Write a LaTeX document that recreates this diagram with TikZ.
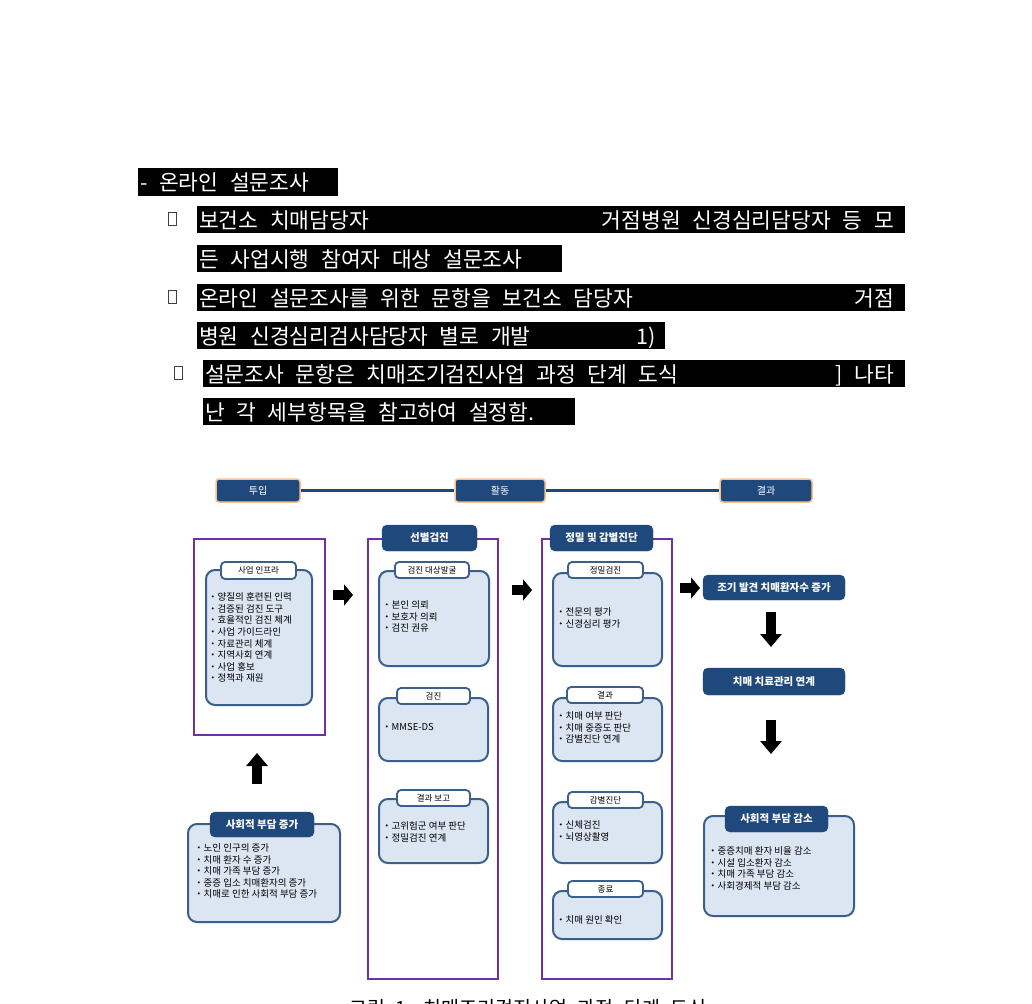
\documentclass[tikz,border=0pt]{standalone}
\usepackage{fontspec}
\usetikzlibrary{arrows.meta}
\newfontfamily\kr{Noto Sans CJK KR}
\newfontfamily\krtop[WordSpace=2.4, Scale=1.0001]{Noto Sans CJK KR}
\definecolor{dblue}{HTML}{1F497D}
\definecolor{bblue}{HTML}{3A5F8C}
\definecolor{lblue}{HTML}{DCE6F2}
\definecolor{purp}{HTML}{7030A0}
\definecolor{peach}{HTML}{F8C08E}
\newcommand\boxat[6]{\node[#2, anchor=north west, inner sep=0pt, minimum width={#5-#3}, minimum height={#6-#4}] (#1) at (#3,#4) {};}
\newcommand\tabat[7]{\node[#2, inner sep=0pt, minimum width={#5-#3}, minimum height={#6-#4}] (#1) at ({(#3+#5)/2},{(#4+#6)/2}) {#7};}
\tikzset{
 purpbox/.style={draw=purp, line width=2pt},
 inbox/.style={draw=bblue, fill=lblue, line width=2pt, rounded corners=9pt},
 wtab/.style={draw=bblue, fill=white, line width=1.8pt, rounded corners=4pt, font=\kr\fontsize{8.5}{10}\selectfont, text=black},
 dtab/.style={fill=dblue, draw=dblue, rounded corners=5pt, text=white, font=\kr\bfseries\fontsize{10.5}{12}\selectfont},
 hdr/.style={fill=dblue, draw=peach, line width=1.5pt, rounded corners=3pt, text=white, font=\kr\fontsize{10}{12}\selectfont},
 btxt/.style={anchor=north west, inner sep=0pt, align=left, font=\kr\fontsize{9.5}{11.6}\selectfont, text=black},
 blk/.style={line width=10pt, -{Triangle[length=9pt,width=21pt]}, draw=black},
 vblk/.style={line width=10pt, -{Triangle[length=13pt,width=21pt]}, draw=black},
 bar/.style={fill=black, draw=none},
 toptxt/.style={inner sep=0pt, text=white, font=\krtop\fontsize{21.5}{24}\selectfont},
 tofu/.style={draw=black!75, line width=0.8pt, minimum width=8pt, minimum height=13pt, inner sep=0pt}
}
\begin{document}
\begin{tikzpicture}[x=1pt,y=-1pt]
\fill[white] (0,0) rectangle (1032,1003);
\useasboundingbox (0,0) rectangle (1032,1003);

% ---------- top text lines ----------
\boxat{bar1}{bar}{138}{168}{338}{196}
\node[toptxt, anchor=base west] (t1) at (140,190) {- 온라인 설문조사};
\node[tofu] (sq1) at (172,219) {};
\boxat{bar2}{bar}{197}{206}{905}{233}
\node[toptxt, anchor=base west] (t2a) at (199,228) {보건소 치매담당자};
\node[toptxt, anchor=base east] (t2b) at (894,228) {거점병원 신경심리담당자 등 모};
\boxat{bar3}{bar}{197}{245}{562}{272}
\node[toptxt, anchor=base west] (t3) at (199,267) {든 사업시행 참여자 대상 설문조사};
\node[tofu] (sq2) at (172,297) {};
\boxat{bar4}{bar}{197}{284}{905}{311}
\node[toptxt, anchor=base west] (t4a) at (199,306) {온라인 설문조사를 위한 문항을 보건소 담당자};
\node[toptxt, anchor=base east] (t4b) at (894,306) {거점};
\boxat{bar5}{bar}{197}{322}{665}{349}
\node[toptxt, anchor=base west] (t5a) at (199,344) {병원 신경심리검사담당자 별로 개발};
\node[toptxt, anchor=base west] (t5b) at (636,344) {1)};
\node[tofu] (sq3) at (178,373) {};
\boxat{bar6}{bar}{203}{360}{905}{387}
\node[toptxt, anchor=base west] (t6a) at (205,382) {설문조사 문항은 치매조기검진사업 과정 단계 도식};
\node[toptxt, anchor=base east] (t6b) at (894,382) {] 나타};
\boxat{bar7}{bar}{203}{398}{575}{425}
\node[toptxt, anchor=base west] (t7) at (205,420) {난 각 세부항목을 참고하여 설정함.};

% ---------- header row ----------
\tabat{hin}{hdr}{216}{479}{300}{502}{투입}
\tabat{hact}{hdr}{455}{479}{545}{502}{활동}
\tabat{hout}{hdr}{720}{479}{812}{502}{결과}
\draw[dblue, line width=3pt] (hin.east) -- (hact.west);
\draw[dblue, line width=3pt] (hact.east) -- (hout.west);

% ---------- column 1 ----------
\boxat{col1}{purpbox}{193}{538}{324}{734}
\boxat{infra}{inbox}{205}{569}{311}{704}
\tabat{infraT}{wtab}{221}{562}{296}{579}{사업 인프라}
\node[btxt] (infraB) at (208,592.5) {・양질의 훈련된 인력\\・검증된 검진 도구\\・효율적인 검진 체계\\・사업 가이드라인\\・자료관리 체계\\・지역사회 연계\\・사업 홍보\\・정책과 재원};

\boxat{burden}{inbox}{187}{823}{339}{921}
\tabat{burdenT}{dtab}{210}{812}{314}{837}{사회적 부담 증가}
\node[btxt] (burdenB) at (194,843.5) {・노인 인구의 증가\\・치매 환자 수 증가\\・치매 가족 부담 증가\\・중증 입소 치매환자의 증가\\・치매로 인한 사회적 부담 증가};

\coordinate (upS) at (257,784);
\coordinate (upE) at (257,753);
\draw[vblk] (upS) -- (upE);

% ---------- column 2 ----------
\boxat{col2}{purpbox}{367}{538}{497}{978}
\tabat{col2T}{dtab}{382}{525}{477}{551}{선별검진}
\boxat{c2a}{inbox}{378}{570}{488}{665}
\tabat{c2aT}{wtab}{395}{562}{469}{578}{검진 대상발굴}
\node[btxt] (c2aB) at (382,600.5) {・본인 의뢰\\・보호자 의뢰\\・검진 권유};
\boxat{c2b}{inbox}{378}{697}{487}{760}
\tabat{c2bT}{wtab}{397}{688}{470}{704}{검진}
\node[btxt] (c2bB) at (382,723.5) {・MMSE-DS};
\boxat{c2c}{inbox}{378}{798}{487}{862}
\tabat{c2cT}{wtab}{397}{790}{470}{806}{결과 보고}
\node[btxt] (c2cB) at (382,821.5) {・고위험군 여부 판단\\・정밀검진 연계};

% ---------- column 3 ----------
\boxat{col3}{purpbox}{541}{538}{671}{978}
\tabat{col3T}{dtab}{550}{525}{653}{551}{정밀 및 감별진단}
\boxat{c3a}{inbox}{552}{572}{661}{665}
\tabat{c3aT}{wtab}{568}{562}{643}{578}{정밀검진}
\node[btxt] (c3aB) at (556,607.5) {・전문의 평가\\・신경심리 평가};
\boxat{c3b}{inbox}{552}{697}{661}{760}
\tabat{c3bT}{wtab}{567}{687}{643}{703}{결과}
\node[btxt] (c3bB) at (556,711.5) {・치매 여부 판단\\・치매 중증도 판단\\・감별진단 연계};
\boxat{c3c}{inbox}{552}{801}{661}{862}
\tabat{c3cT}{wtab}{568}{792}{643}{808}{감별진단}
\node[btxt] (c3cB) at (556,820.5) {・신체검진\\・뇌영상촬영};
\boxat{c3d}{inbox}{552}{890}{661}{938}
\tabat{c3dT}{wtab}{568}{881}{643}{897}{종료}
\node[btxt] (c3dB) at (556,915.5) {・치매 원인 확인};

% ---------- arrows between columns ----------
\coordinate (r1s) at (333,595); \coordinate (r1e) at (353,595);
\draw[blk] (r1s) -- (r1e);
\coordinate (r2s) at (512,590); \coordinate (r2e) at (532,590);
\draw[blk] (r2s) -- (r2e);
\coordinate (r3s) at (680,588); \coordinate (r3e) at (700,588);
\draw[blk] (r3s) -- (r3e);

% ---------- results ----------
\tabat{res1}{dtab}{703}{575}{845}{600}{조기 발견 치매환자수 증가}
\coordinate (d1s) at (771,612); \coordinate (d1e) at (771,647);
\draw[vblk] (d1s) -- (d1e);
\tabat{res2}{dtab}{703}{668}{845}{695}{치매 치료관리 연계}
\coordinate (d2s) at (771,720); \coordinate (d2e) at (771,754);
\draw[vblk] (d2s) -- (d2e);
\boxat{relief}{inbox}{703}{815}{853}{915}
\tabat{reliefT}{dtab}{725}{806}{828}{832}{사회적 부담 감소}
\node[btxt] (reliefB) at (708,846.5) {・중증치매 환자 비율 감소\\・시설 입소환자 감소\\・치매 가족 부담 감소\\・사회경제적 부담 감소};

% ---------- caption (cut by the page edge, as in the reference) ----------
\node[inner sep=0pt, anchor=base, font=\krtop\fontsize{19.5}{21}\selectfont] (cap) at (528,1015) {그림 1. 치매조기검진사업 과정 단계 도식};
\end{tikzpicture}
\end{document}
